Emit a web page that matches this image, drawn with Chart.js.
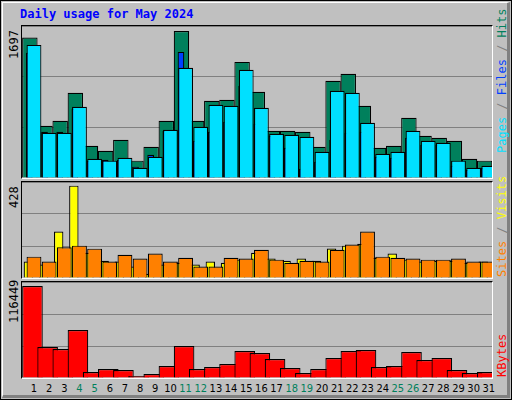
<!DOCTYPE html>
<html><head><meta charset="utf-8">
<script src="https://cdn.jsdelivr.net/npm/chart.js@4"></script>
<style>
html,body{margin:0;padding:0;background:#fff;}
#frame{position:absolute;left:0;top:0;width:510px;height:398px;border:1px solid #000;background:#c0c0c0;box-sizing:content-box;}
#hl{position:absolute;left:1px;top:1px;width:504px;height:392px;border-top:1px solid #fff;border-left:1px solid #fff;border-right:3px solid #808080;border-bottom:3px solid #808080;}
.title{position:absolute;left:19px;top:6px;font:bold 12px "DejaVu Sans Mono",monospace;color:#0000ff;}
.panel{position:absolute;left:20px;width:470px;border-top:1px solid #000;border-left:1px solid #000;border-right:1px solid #fff;border-bottom:1px solid #fff;}
.panel canvas{display:block;}
.rot{position:absolute;transform:rotate(-90deg);transform-origin:left top;white-space:nowrap;font:12px "DejaVu Sans Mono",monospace;}
.days{position:absolute;top:381px;left:0;font:11px "DejaVu Sans Condensed","DejaVu Sans",sans-serif;}
.days span{position:absolute;transform:translateX(-50%);}
</style></head><body>
<div id="frame"><div id="hl"></div>
<div class="title">Daily usage for May 2024</div>
<div class="panel" style="top:24px;height:152px"><canvas id="c1" width="470" height="152"></canvas></div>
<div class="panel" style="top:180px;height:96px"><canvas id="c2" width="470" height="96"></canvas></div>
<div class="panel" style="top:280px;height:96px"><canvas id="c3" width="470" height="96"></canvas></div>
<div class="rot" style="left:6px;top:58px;color:#000">1697</div>
<div class="rot" style="left:6px;top:207px;color:#000">428</div>
<div class="rot" style="left:6px;top:322px;color:#000">116449</div>
<div class="rot" style="left:494px;top:152px"><span style="color:#00e0ff">Pages</span><span style="color:#808080"> / </span><span style="color:#0040ff">Files</span><span style="color:#808080"> / </span><span style="color:#00805c">Hits</span></div>
<div class="rot" style="left:494px;top:276px"><span style="color:#ff8000">Sites</span><span style="color:#808080"> / </span><span style="color:#ffff00">Visits</span></div>
<div class="rot" style="left:494px;top:376px"><span style="color:#ff0000">KBytes</span></div>
<div class="days" id="days"></div>
</div>
<script>
const days=[1,2,3,4,5,6,7,8,9,10,11,12,13,14,15,16,17,18,19,20,21,22,23,24,25,26,27,28,29,30,31];
const weekend=[4,5,11,12,18,19,25,26];
const hits=[1620,603,660,983,372,315,442,200,361,660,1697,660,891,902,1340,995,545,545,534,361,1121,1202,833,349,372,695,488,465,430,223,200];
const files=[1444,534,534,799,200,211,211,131,269,545,1455,430,534,649,1064,626,488,349,108,188,442,522,534,246,234,465,384,384,142,96,119];
const pages=[1536,522,522,822,223,200,234,119,246,557,1271,591,845,833,1248,810,511,499,476,303,1006,983,637,280,303,545,430,407,200,119,142];
const visits=[76,62,215,428,117,80,76,53,20,62,71,62,76,71,85,117,90,80,90,80,137,150,159,94,113,85,76,80,80,71,76];
const sites=[99,76,142,150,136,76,108,90,113,76,94,53,53,94,90,131,85,71,80,76,131,155,215,99,94,90,85,85,90,76,76];
const kbytes=[116449,39237,36705,60754,7594,11391,10126,2531,5063,15188,40502,11391,13923,17720,34174,31643,24048,12657,6329,11391,25314,34174,35440,13923,15188,32909,22783,25314,10126,6329,7594];

const slot=470/31;
const dd=document.getElementById('days');
days.forEach((d,i)=>{const s=document.createElement('span');s.textContent=d;s.style.left=(21+slot*(i+0.79))+'px';s.style.color=weekend.includes(d)?'#00805c':'#000';dd.appendChild(s);});

function ds(vals,color,axis,width,order){
  return {data:vals.map((v,i)=>({x:days[i],y:v})),backgroundColor:color,borderColor:'#000',borderWidth:1.2,xAxisID:axis,order:order,
    categoryPercentage:1,barPercentage:width*2,grouped:false,borderSkipped:'bottom'};
}
function xax(off){return {type:'linear',display:false,min:0.5-off,max:31.5-off,offset:false};}
function make(id,max,datasets,axes){
  const scales={y:{min:0,max:max,display:true,border:{display:false},ticks:{display:false,stepSize:max/3},grid:{color:'#808080',lineWidth:1,drawTicks:false,tickLength:0}}};
  Object.assign(scales,axes);
  new Chart(document.getElementById(id),{type:'bar',data:{datasets},
    options:{responsive:false,animation:false,layout:{padding:0},plugins:{legend:{display:false},tooltip:{enabled:false}},scales}});
}
make('c1',1754,[ds(hits,'#00805c','xh',0.51,3),ds(files,'#0040ff','xf',0.22,2),ds(pages,'#00e0ff','xp',0.49,1)],
  {xh:xax(0.018),xf:xax(-0.015),xp:xax(0.29)});
make('c2',445,[ds(visits,'#ffff00','xv',0.31,2),ds(sites,'#ff8000','xs',0.49,1)],{xv:xax(-0.08),xs:xax(0.29)});
make('c3',121512,[ds(kbytes,'#ff0000','xk',0.68,1)],{xk:xax(0.19)});
</script>
</body></html>
